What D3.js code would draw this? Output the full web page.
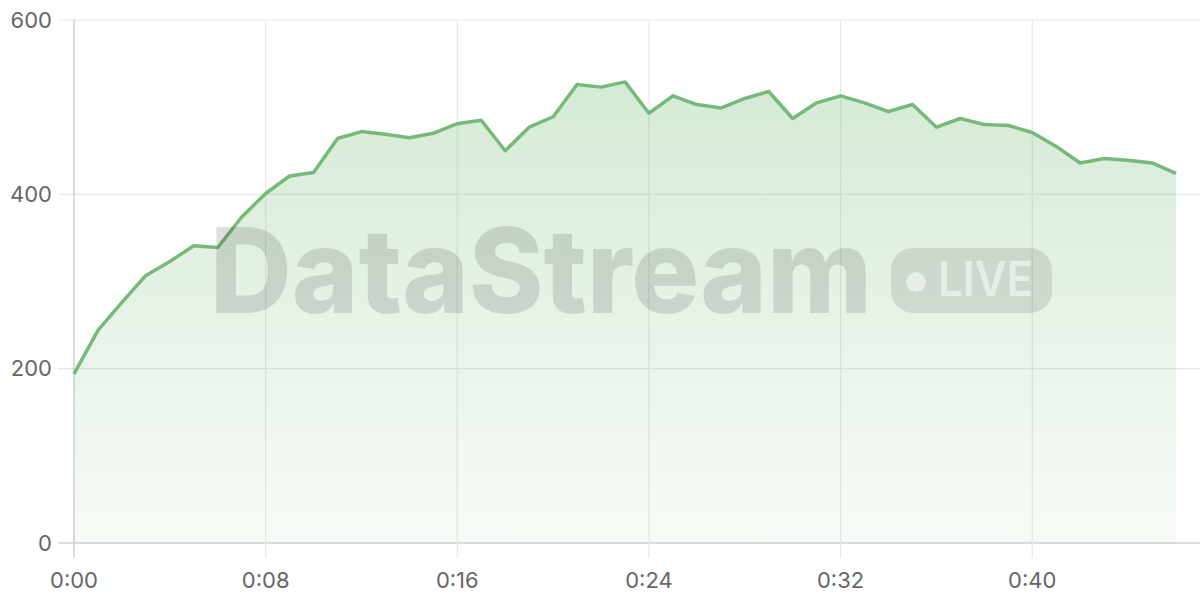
<!DOCTYPE html>
<html>
<head>
<meta charset="utf-8">
<script src="https://cdn.jsdelivr.net/npm/d3@7"></script>
<style>
  html, body { margin: 0; padding: 0; background: #fff; }
  svg { display: block; font-family: Inter, "Noto Sans", sans-serif; }
</style>
</head>
<body>
<div id="chart"></div>
<script>
// values, one per minute
const minutes = d3.range(0, 47);
const values = [194, 244, 276, 307, 323, 341, 339, 374, 401, 421,
                425, 464, 472, 469, 465, 470, 481, 485, 450, 477,
                489, 526, 523, 529, 493, 513, 503, 499, 510, 518,
                487, 505, 513, 505, 495, 503, 477, 487, 480, 479,
                471, 455, 436, 441, 439, 436, 424];
const yTicks = [0, 200, 400, 600];
const xTicks = [0, 8, 16, 24, 32, 40];

const width = 1200, height = 600,
    margin = {left: 74, top: 20, right: 0, bottom: 57};

const svg = d3.select("#chart")
    .append("svg")
      .attr("width", width)
      .attr("height", height);

const xScale = d3.scaleLinear()
    .domain([0, 46])
    .range([margin.left, 1176]);
const yScale = d3.scaleLinear()
    .domain([0, 600])
    .range([height - margin.bottom, margin.top]);

const defs = svg.append("defs");
const grad = defs.append("linearGradient")
    .attr("id", "areaFill")
    .attr("x1", 0).attr("y1", 0).attr("x2", 0).attr("y2", 1);
grad.append("stop").attr("offset", "0%").attr("stop-color", "#7bbf7f").attr("stop-opacity", 0.32);
grad.append("stop").attr("offset", "100%").attr("stop-color", "#7bbf7f").attr("stop-opacity", 0.06);

// grid
const grid = svg.append("g");
grid.selectAll(".hgrid").data(yTicks).enter()
  .append("line")
    .attr("x1", margin.left - 16)
    .attr("x2", width)
    .attr("y1", d => yScale(d))
    .attr("y2", d => yScale(d))
    .attr("stroke", d => d === 0 ? "#d0d0d0" : "#e8e8e8")
    .attr("stroke-width", d => d === 0 ? 1.5 : 1.2);
grid.selectAll(".vgrid").data(xTicks).enter()
  .append("line")
    .attr("x1", d => xScale(d))
    .attr("x2", d => xScale(d))
    .attr("y1", margin.top)
    .attr("y2", yScale(0) + 15)
    .attr("stroke", d => d === 0 ? "#d0d0d0" : "#e8e8e8")
    .attr("stroke-width", d => d === 0 ? 1.5 : 1.2);

// area + line
const area = d3.area()
    .x((d, i) => xScale(minutes[i]))
    .y0(yScale(0))
    .y1(d => yScale(d));
const line = d3.line()
    .x((d, i) => xScale(minutes[i]))
    .y(d => yScale(d));

svg.append("path")
    .datum(values)
    .attr("d", area)
    .attr("fill", "url(#areaFill)");
svg.append("path")
    .datum(values)
    .attr("d", line)
    .attr("fill", "none")
    .attr("stroke", "#76b97a")
    .attr("stroke-width", 3.5)
    .attr("stroke-linejoin", "round");

// watermark
const wm = svg.append("g");
wm.append("text")
    .attr("x", 210)
    .attr("y", 313)
    .attr("font-size", 118)
    .attr("font-weight", 800)
    .attr("textLength", 662)
    .attr("lengthAdjust", "spacingAndGlyphs")
    .attr("fill", "rgba(0,0,0,0.12)")
    .text("DataStream");
wm.append("rect")
    .attr("x", 891).attr("y", 248)
    .attr("width", 161).attr("height", 65)
    .attr("rx", 22)
    .attr("fill", "rgba(0,0,0,0.1)");
wm.append("circle")
    .attr("cx", 916).attr("cy", 282).attr("r", 10)
    .attr("fill", "rgba(255,255,255,0.55)");
wm.append("text")
    .attr("x", 938)
    .attr("y", 296)
    .attr("font-size", 48)
    .attr("font-weight", 600)
    .attr("textLength", 95)
    .attr("lengthAdjust", "spacingAndGlyphs")
    .attr("fill", "rgba(255,255,255,0.55)")
    .text("LIVE");

// labels
svg.selectAll(".ylab").data(yTicks).enter()
  .append("text")
    .attr("x", 52)
    .attr("y", d => yScale(d))
    .attr("dy", "0.35em")
    .attr("text-anchor", "end")
    .attr("font-size", 22)
    .attr("fill", "#666")
    .text(d => d);
svg.selectAll(".xlab").data(xTicks).enter()
  .append("text")
    .attr("x", d => xScale(d))
    .attr("y", 588)
    .attr("text-anchor", "middle")
    .attr("font-size", 22)
    .attr("fill", "#666")
    .text(d => "0:" + String(d).padStart(2, "0"));
</script>
</body>
</html>
